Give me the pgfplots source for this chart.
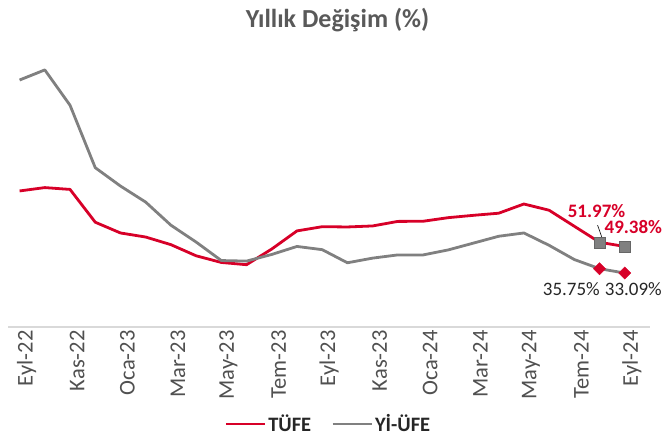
\documentclass[border=0pt]{standalone}
\usepackage{pgfplots}
\pgfplotsset{compat=1.18}
\usepackage{fontspec}
\setmainfont{Carlito}
\definecolor{tred}{RGB}{215,0,40}
\definecolor{tgray}{RGB}{128,128,128}
\definecolor{titlegray}{RGB}{89,89,89}
\definecolor{tickgray}{RGB}{80,80,80}
\definecolor{axisgray}{RGB}{217,217,217}
\definecolor{labdark}{RGB}{38,38,38}
\begin{document}
\begin{tikzpicture}
\useasboundingbox (0,0) rectangle (668bp,437bp);
\node[font=\fontsize{26bp}{30bp}\selectfont\bfseries, text=titlegray, anchor=base] at (337.5bp,409bp) {Yıllık Değişim (\%)};
\begin{axis}[
  at={(8bp,110bp)}, anchor=south west,
  scale only axis, width=642bp, height=269bp,
  xmin=-0.46, xmax=25.0, ymin=0, ymax=165,
  clip=false,
  axis x line=bottom, axis y line=none,
  x axis line style={-, draw=axisgray, line width=1.5bp},
  ytick=\empty,
  xtick={0,2,...,24},
  xticklabels={Eyl-22,Kas-22,Oca-23,Mar-23,May-23,Tem-23,Eyl-23,Kas-23,Oca-24,Mar-24,May-24,Tem-24,Eyl-24},
  xticklabel style={rotate=90, anchor=east, yshift=-7bp, font=\fontsize{22.5bp}{26bp}\selectfont, text=tickgray},
  major tick length=0pt,
  legend style={at={(0.499,-0.3606)}, anchor=center, draw=none, fill=none,
    font=\fontsize{20.5bp}{24bp}\selectfont\bfseries, text=labdark, legend columns=2,
    /tikz/every even column/.append style={column sep=18bp}},
  legend cell align=left,
  legend image code/.code={\draw[#1] (0bp,0bp) -- (39bp,0bp);},
]
\addplot[tred, line width=2.8bp, line join=round] coordinates {
(0,83.45)(1,85.51)(2,84.39)(3,64.27)(4,57.68)(5,55.18)(6,50.51)(7,43.68)(8,39.59)(9,38.21)
(10,47.83)(11,58.94)(12,61.53)(13,61.36)(14,61.98)(15,64.77)(16,64.86)(17,67.07)(18,68.50)(19,69.80)
(20,75.45)(21,71.60)(22,61.78)(23,51.97)(24,49.38)};
\addlegendentry{TÜFE}
\addplot[tgray, line width=2.8bp, line join=round] coordinates {
(0,151.50)(1,157.69)(2,136.02)(3,97.72)(4,86.46)(5,76.61)(6,62.45)(7,52.11)(8,40.76)(9,40.42)
(10,44.50)(11,49.41)(12,47.44)(13,39.39)(14,42.25)(15,44.22)(16,44.20)(17,47.29)(18,51.47)(19,55.66)
(20,57.68)(21,50.09)(22,41.37)(23,35.75)(24,33.09)};
\addlegendentry{Yİ-ÜFE}
\addplot[only marks, mark=square*, mark size=5.5bp, mark options={fill=tgray, draw=tgray!80!black, line width=0.5bp}, forget plot] coordinates {(23,51.97)(24,49.38)};
\addplot[only marks, mark=square*, mark size=4.3bp, mark options={rotate=45, fill=tred, draw=tred}, forget plot] coordinates {(23,35.75)(24,33.09)};
\draw[black, line width=0.6bp] (axis cs:22.92,62.5) -- (axis cs:23.11,54.2);
\node[font=\fontsize{19bp}{22bp}\selectfont\bfseries, text=tred] at (axis cs:22.88,71.1) {51.97\%};
\node[font=\fontsize{19bp}{22bp}\selectfont\bfseries, text=tred] at (axis cs:24.34,61.3) {49.38\%};
\node[font=\fontsize{19bp}{22bp}\selectfont, text=labdark] at (axis cs:21.88,23.3) {35.75\%};
\node[font=\fontsize{19bp}{22bp}\selectfont, text=labdark] at (axis cs:24.34,23.3) {33.09\%};
\end{axis}
\end{tikzpicture}
\end{document}
